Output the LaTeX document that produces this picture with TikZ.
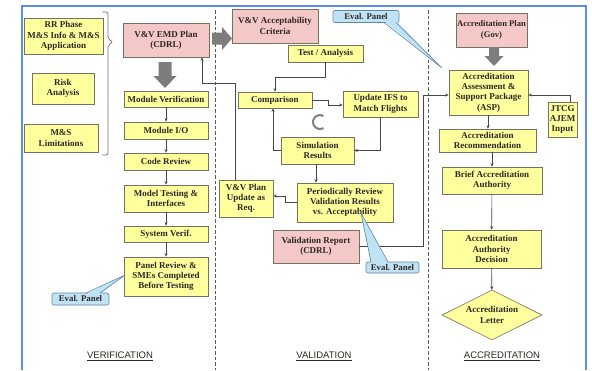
\documentclass[tikz,border=0pt]{standalone}
\usepackage{fontspec}
\setmainfont{Liberation Serif}
\newfontfamily\labfont{Liberation Sans}
\usetikzlibrary{arrows.meta,shapes.geometric}
\definecolor{ybg}{RGB}{255,255,158}
\definecolor{pbg}{RGB}{245,200,200}
\definecolor{boxline}{RGB}{115,115,100}
\definecolor{txt}{RGB}{45,40,35}
\definecolor{connc}{RGB}{70,70,70}
\definecolor{cbg}{RGB}{192,226,245}
\definecolor{cline}{RGB}{95,135,165}
\definecolor{frame}{RGB}{90,140,240}
\definecolor{garr}{RGB}{125,125,125}
\begin{document}
\begin{tikzpicture}[x=1pt,y=-1pt,
  box/.style={draw=boxline, line width=0.6pt, align=center, inner sep=1pt,
    font=\bfseries\fontsize{9}{10.3}\selectfont, text=txt},
  ybox/.style={box, fill=ybg},
  pbox/.style={box, fill=pbg},
  callbox/.style={draw=cline, fill=cbg, line width=0.6pt, rounded corners=2pt,
    inner sep=1pt, font=\bfseries\fontsize{8.8}{9}\selectfont, text=txt},
  conn/.style={draw=connc, line width=0.6pt, -{Stealth[length=3.5pt,width=3pt]}},
  plain/.style={draw=connc, line width=0.6pt},
  sep/.style={draw=black!65, line width=0.9pt, dash pattern=on 3.5pt off 2pt},
  garrow/.style={fill=garr},
  lab/.style={font=\labfont\fontsize{9.5}{10}\selectfont, text=txt, inner sep=0pt}
]
\useasboundingbox (0,0) rectangle (592,370);
\fill[white] (0,0) rectangle (592,370);
% frame
\draw[frame, line width=2.2pt] (22,370) -- (22,6) -- (586,6) -- (586,370);
% separators
\draw[sep] (215,10) -- (215,370);
\draw[sep] (428,10) -- (428,370);

% ---------- verification ----------
\node[ybox, minimum width=79pt, minimum height=36pt] (rr) at (63.5,36) {RR Phase\\M\&S Info \& M\&S\\Application};
\node[ybox, minimum width=62pt, minimum height=31pt] (risk) at (63,88.5) {Risk\\Analysis};
\node[ybox, minimum width=74pt, minimum height=28pt] (lim) at (61,138) {M\&S\\Limitations};
\draw[draw=black!55, line width=0.7pt, rounded corners=2pt] (102,12) -- (108,12) -- (108,39) -- (113,42) -- (108,45) -- (108,155) -- (102,155);

\node[pbox, minimum width=86pt, minimum height=34pt] (emd) at (166,40) {V\&V EMD Plan\\(CDRL)};
\fill[garrow] (158.5,62) -- (171.5,62) -- (171.5,76) -- (176.5,76) -- (165,88) -- (153.5,76) -- (158.5,76) -- cycle;

\node[ybox, minimum width=84pt, minimum height=16pt] (mv) at (166,99) {Module Verification};
\node[ybox, minimum width=84pt, minimum height=17pt] (mio) at (166,130.5) {Module I/O};
\node[ybox, minimum width=84pt, minimum height=17pt] (cr) at (166,161.5) {Code Review};
\node[ybox, minimum width=84pt, minimum height=27pt] (mt) at (166,198.5) {Model Testing \&\\Interfaces};
\node[ybox, minimum width=84pt, minimum height=16pt] (sv) at (166,234) {System Verif.};
\node[ybox, minimum width=84pt, minimum height=39pt] (pr) at (166,276.5) {Panel Review \&\\SMEs Completed\\Before Testing};
\draw[conn] (mv) -- (mio);
\draw[conn] (mio) -- (cr);
\draw[conn] (cr) -- (mt);
\draw[conn] (mt) -- (sv);
\draw[conn] (sv) -- (pr);

\node[callbox, minimum width=57pt, minimum height=12pt] (ev1) at (80.5,299) {Eval. Panel};
\coordinate (t1) at (125,275);
\fill[cbg] (86,294) -- (t1) -- (100,294) -- cycle;
\draw[cline, line width=0.6pt] (86,293) -- (t1) -- (100,293);

\node[lab] (lver) at (120,356) {\underline{VERIFICATION}};

% ---------- validation ----------
\fill[garrow] (212,32.5) -- (222,32.5) -- (222,27) -- (232,38.5) -- (222,50) -- (222,44.5) -- (212,44.5) -- cycle;
\node[pbox, minimum width=86pt, minimum height=34pt] (crit) at (275,26) {V\&V Acceptability\\Criteria};
\node[ybox, minimum width=75pt, minimum height=17pt] (ta) at (325.5,53.5) {Test / Analysis};
\node[ybox, minimum width=74pt, minimum height=16pt] (cmp) at (275,100) {Comparison};
\node[ybox, minimum width=75pt, minimum height=26pt] (ifs) at (380.5,104) {Update IFS to\\Match Flights};
\node[ybox, minimum width=73pt, minimum height=27pt] (sim) at (317.5,150.5) {Simulation\\Results};
\node[ybox, minimum width=54pt, minimum height=37pt] (vvu) at (246,198.5) {V\&V Plan\\Update as\\Req.};
\node[ybox, minimum width=96pt, minimum height=39pt] (prv) at (345,202.5) {Periodically Review\\Validation Results\\vs. Acceptability};
\node[pbox, minimum width=86pt, minimum height=33pt] (vr) at (316,246.5) {Validation Report\\(CDRL)};
\draw[draw=black!50, line width=2pt] (320,122) ++(60:7) arc[start angle=60, end angle=300, radius=7];

\coordinate (c1) at (235,83);
\coordinate (c1b) at (202,83);
\draw[conn] ([xshift=-11pt]vvu.north) -- (c1) -- (c1b) -- (c1b |- emd.south);
\coordinate (c2) at (325.5,77);
\coordinate (c3) at (275,77);
\draw[conn] (ta.south) -- (c2) -- (c3) -- (cmp.north);
\coordinate (c4) at (328,100);
\draw[conn] (cmp.east) -- (c4) |- ([yshift=-1pt]ifs.west);
\draw[conn] (ifs.south) |- (sim.east);
\coordinate (c5) at (273,150.5);
\draw[conn] (sim.west) -- (c5) -- (c5 |- cmp.south);
\coordinate (c6) at (316,164);
\draw[conn] (c6) -- (c6 |- prv.north);
\coordinate (c7) at (285,202.5);
\coordinate (c8) at (285,196);
\draw[conn] (prv.west) -- (c7) -- (c8) -- (c8 -| vvu.east);

\node[callbox, minimum width=66pt, minimum height=12pt] (ev2) at (366,16.5) {Eval. Panel};
\coordinate (t2) at (442,68);
\fill[cbg] (384,21) -- (t2) -- (396,21) -- cycle;
\draw[cline, line width=0.6pt] (384,22.5) -- (t2) -- (396,22.5);

\node[callbox, minimum width=53pt, minimum height=11pt] (ev3) at (392.5,267.5) {Eval. Panel};

% validation report to ASP
\coordinate (c9) at (423,246.5);
\coordinate (c10) at (423,95);

\node[lab] (lval) at (324,356) {\underline{VALIDATION}};

% ---------- accreditation ----------
\node[pbox, minimum width=69pt, minimum height=34pt, font=\bfseries\fontsize{8.6}{10.3}\selectfont] (ap) at (491.5,30) {Accreditation Plan\\(Gov)};
\fill[garrow] (489,47) -- (499,47) -- (499,56) -- (503.5,56) -- (494,66) -- (484.5,56) -- (489,56) -- cycle;
\node[ybox, minimum width=79pt, minimum height=45pt] (asp) at (488.5,92.5) {Accreditation\\Assessment \&\\Support Package\\(ASP)};
\node[ybox, minimum width=29pt, minimum height=35pt] (jt) at (562.5,119.5) {JTCG\\AJEM\\Input};
\node[ybox, minimum width=97pt, minimum height=23pt] (rec) at (487.5,140.5) {Accreditation\\Recommendation};
\node[ybox, minimum width=100pt, minimum height=27pt] (brief) at (492,180.5) {Brief Accreditation\\Authority};
\node[ybox, minimum width=99pt, minimum height=38pt] (dec) at (491.5,249) {Accreditation\\Authority\\Decision};
\node[ybox, diamond, aspect=2, inner sep=0pt, minimum width=100pt, minimum height=50pt] (let) at (492,315) {Accreditation\\Letter};

\draw[plain] (vr.east) -- (c9) -- (c10);
\draw[conn] (c10) -- (c10 -| asp.west);
\coordinate (c11) at (570,95);
\draw[conn] (c11 |- jt.north) -- (c11) -- (c11 -| asp.east);
\coordinate (c12) at (488,115);
\draw[conn] (c12) -- (c12 |- rec.north);
\draw[conn] (rec.south -| brief.north) -- (brief.north);
\draw[conn] (brief) -- (dec);
\draw[conn] (dec) -- (let);

% middle callout tail (drawn over the line)
\coordinate (t3) at (361,213);
\fill[cbg] (371,263) -- (t3) -- (388,263) -- cycle;
\draw[cline, line width=0.6pt] (371,262) -- (t3) -- (388,262);

\node[lab] (lacc) at (502,356) {\underline{ACCREDITATION}};
\end{tikzpicture}
\end{document}
